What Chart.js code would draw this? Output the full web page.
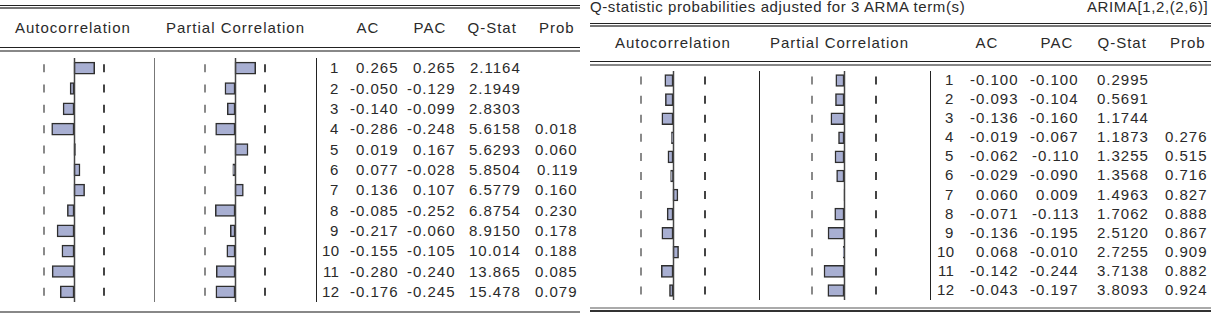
<!DOCTYPE html>
<html>
<head>
<meta charset="utf-8">
<script src="https://cdn.jsdelivr.net/npm/chart.js@4.4.0/dist/chart.umd.min.js"></script>
<style>
  body { margin: 0; background: #fff; }
  #wrap { position: relative; width: 1213px; height: 314px; overflow: hidden; background: #fff;
          font-family: "Liberation Sans", Arial, sans-serif; font-size: 15px; letter-spacing: 1px; color: #2a2a2a; }
  .t { position: absolute; white-space: nowrap; line-height: 16px; }
  .hl { position: absolute; height: 0; }
  .vl { position: absolute; width: 0; }
  canvas { position: absolute; }
</style>
</head>
<body>
<div id="wrap"></div>
<script>
// correlogram data, left = levels, right = ARIMA residuals
var lags = [1, 2, 3, 4, 5, 6, 7, 8, 9, 10, 11, 12];

var acLeft   = [0.265, -0.050, -0.140, -0.286, 0.019, 0.077, 0.136, -0.085, -0.217, -0.155, -0.280, -0.176];
var pacLeft  = [0.265, -0.129, -0.099, -0.248, 0.167, -0.028, 0.107, -0.252, -0.060, -0.105, -0.240, -0.245];
var qLeft    = [2.1164, 2.1949, 2.8303, 5.6158, 5.6293, 5.8504, 6.5779, 6.8754, 8.9150, 10.014, 13.865, 15.478];
var probLeft = [null, null, null, 0.018, 0.060, 0.119, 0.160, 0.230, 0.178, 0.188, 0.085, 0.079];

var acRight   = [-0.100, -0.093, -0.136, -0.019, -0.062, -0.029, 0.060, -0.071, -0.136, 0.068, -0.142, -0.043];
var pacRight  = [-0.100, -0.104, -0.160, -0.067, -0.110, -0.090, 0.009, -0.113, -0.195, -0.010, -0.244, -0.197];
var qRight    = [0.2995, 0.5691, 1.1744, 1.1873, 1.3255, 1.3568, 1.4963, 1.7062, 2.5120, 2.7255, 3.7138, 3.8093];
var probRight = [null, null, null, 0.276, 0.515, 0.716, 0.827, 0.888, 0.867, 0.909, 0.882, 0.924];

var bound = 0.385;   // +/- 2/sqrt(T) band
var colHeads = ['AC', 'PAC', 'Q-Stat', 'Prob'];

var wrap = document.getElementById('wrap');

function addText(txt, x, yc, align, spacing) {
    var d = document.createElement('div');
    d.className = 't';
    d.textContent = txt;
    d.style.top = (yc - 8) + 'px';
    if (spacing !== undefined) d.style.letterSpacing = spacing + 'px';
    wrap.appendChild(d);
    if (align == 'right') {
        d.style.left = (x - d.offsetWidth + 1) + 'px';
    } else if (align == 'center') {
        d.style.left = (x - d.offsetWidth / 2) + 'px';
    } else {
        d.style.left = x + 'px';
    }
}

function hline(x1, x2, y, w, col) {
    var d = document.createElement('div');
    d.className = 'hl';
    d.style.left = x1 + 'px';
    d.style.width = (x2 - x1) + 'px';
    d.style.top = y + 'px';
    d.style.borderTop = w + 'px solid ' + col;
    wrap.appendChild(d);
}

function vline(x, y1, y2, w, col) {
    var d = document.createElement('div');
    d.className = 'vl';
    d.style.left = x + 'px';
    d.style.top = y1 + 'px';
    d.style.height = (y2 - y1) + 'px';
    d.style.borderLeft = w + 'px solid ' + col;
    wrap.appendChild(d);
}

function fmtQ(v) {
    return v < 10 ? v.toFixed(4) : v.toFixed(3);
}

// zero line + dashed band, drawn from the chart's own scales
var bandPlugin = {
    id: 'band',
    afterDatasetsDraw: function(chart) {
        var ctx = chart.ctx;
        var xs = chart.scales.x, ys = chart.scales.y;
        var area = chart.chartArea;
        ctx.save();
        var x0 = Math.round(xs.getPixelForValue(0)) + 0.5;
        ctx.strokeStyle = '#444';
        ctx.lineWidth = 1.5;
        ctx.beginPath();
        ctx.moveTo(x0, area.top);
        ctx.lineTo(x0, area.bottom);
        ctx.stroke();
        ctx.lineWidth = 2;
        for (var i = 0; i < chart.data.labels.length; i++) {
            var y = ys.getPixelForValue(i);
            [[-bound, '#8a8a8a'], [bound, '#444']].forEach(function(b) {
                var x = Math.round(xs.getPixelForValue(b[0]));
                ctx.strokeStyle = b[1];
                ctx.beginPath();
                ctx.moveTo(x, y - 4);
                ctx.lineTo(x, y + 4);
                ctx.stroke();
            });
        }
        ctx.restore();
    }
};

function barChart(values, zeroX, top, height, pxPerUnit) {
    var half = 70;
    var c = document.createElement('canvas');
    c.width = half * 2;
    c.height = height;
    c.style.left = (zeroX - half) + 'px';
    c.style.top = top + 'px';
    wrap.appendChild(c);
    var lim = half / pxPerUnit;
    return new Chart(c.getContext('2d'), {
        type: 'bar',
        data: {
            labels: lags,
            datasets: [{
                data: values,
                backgroundColor: 'rgb(168, 175, 210)',
                borderColor: '#2e2e2e',
                borderWidth: 1.5,
                borderSkipped: false,
                barThickness: 12
            }]
        },
        options: {
            indexAxis: 'y',
            responsive: false,
            animation: false,
            events: [],
            layout: { padding: 0 },
            plugins: { legend: { display: false }, tooltip: { enabled: false } },
            scales: {
                x: { display: false, min: -lim, max: lim },
                y: { display: false }
            }
        },
        plugins: [bandPlugin]
    });
}

function panel(p, ac, pac, q, prob) {
    // rules
    hline(p.x1, p.x2, p.topLine, 1, '#222');
    hline(p.x1, p.x2, p.topLine + 2, 2, '#777');
    hline(p.x1, p.x2, p.headLine, 1, '#222');
    hline(p.x1, p.x2, p.headLine + 3, 2, '#888');
    if (p.bottomDouble) {
        hline(p.x1, p.x2, p.bottomLine - 3, 2, '#aaa');
        hline(p.x1, p.x2, p.bottomLine, 2, '#333');
    } else {
        hline(p.x1, p.x2, p.bottomLine, 2, '#888');
    }
    vline(p.sep1, p.plotTop, p.plotTop + p.plotH, 1.5, p.sep1Col);
    vline(p.sep2, p.plotTop, p.plotTop + p.plotH, 1.5, '#222');

    // headings
    addText('Autocorrelation', p.acHead, p.headY, 'center');
    addText('Partial Correlation', p.pacHead, p.headY, 'left');
    for (var h = 0; h < colHeads.length; h++) {
        addText(colHeads[h], p.headCols[h], p.headY, 'center');
    }

    // table
    var pitch = p.plotH / lags.length;
    for (var i = 0; i < lags.length; i++) {
        var y = p.plotTop + pitch * (i + 0.5);
        addText(String(lags[i]), p.cols[0], y, 'right', 0.3);
        addText(ac[i].toFixed(3), p.cols[1], y, 'right');
        addText(pac[i].toFixed(3), p.cols[2], y, 'right');
        addText(fmtQ(q[i]), p.cols[3], y, 'right');
        if (prob[i] !== null) addText(prob[i].toFixed(3), p.cols[4], y, 'right');
    }

    barChart(ac, p.acZero, p.plotTop, p.plotH, p.k);
    barChart(pac, p.pacZero, p.plotTop, p.plotH, p.k);
}

window.onload = function() {
    panel({
        x1: 0, x2: 580, topLine: 5, headLine: 47, bottomLine: 311, bottomDouble: false,
        headY: 28, plotTop: 58, plotH: 244,
        sep1: 154, sep1Col: '#777', sep2: 316,
        acHead: 73, pacHead: 166, headCols: [368, 430, 492, 557],
        cols: [338, 398, 455, 520, 577],
        acZero: 74, pacZero: 235, k: 78
    }, acLeft, pacLeft, qLeft, probLeft);

    panel({
        x1: 590, x2: 1211, topLine: 23, headLine: 61, bottomLine: 310, bottomDouble: true,
        headY: 43, plotTop: 70.5, plotH: 229,
        sep1: 759, sep1Col: '#222', sep2: 930,
        acHead: 673, pacHead: 770, headCols: [987, 1057, 1122, 1188],
        cols: [953, 1018, 1078, 1148, 1207],
        acZero: 673, pacZero: 844, k: 82
    }, acRight, pacRight, qRight, probRight);

    addText('Q-statistic probabilities adjusted for 3 ARMA term(s)', 590, 7, 'left', 0.6);
    addText('ARIMA[1,2,(2,6)]', 1207, 7, 'right', 0.6);
};
</script>
</body>
</html>
